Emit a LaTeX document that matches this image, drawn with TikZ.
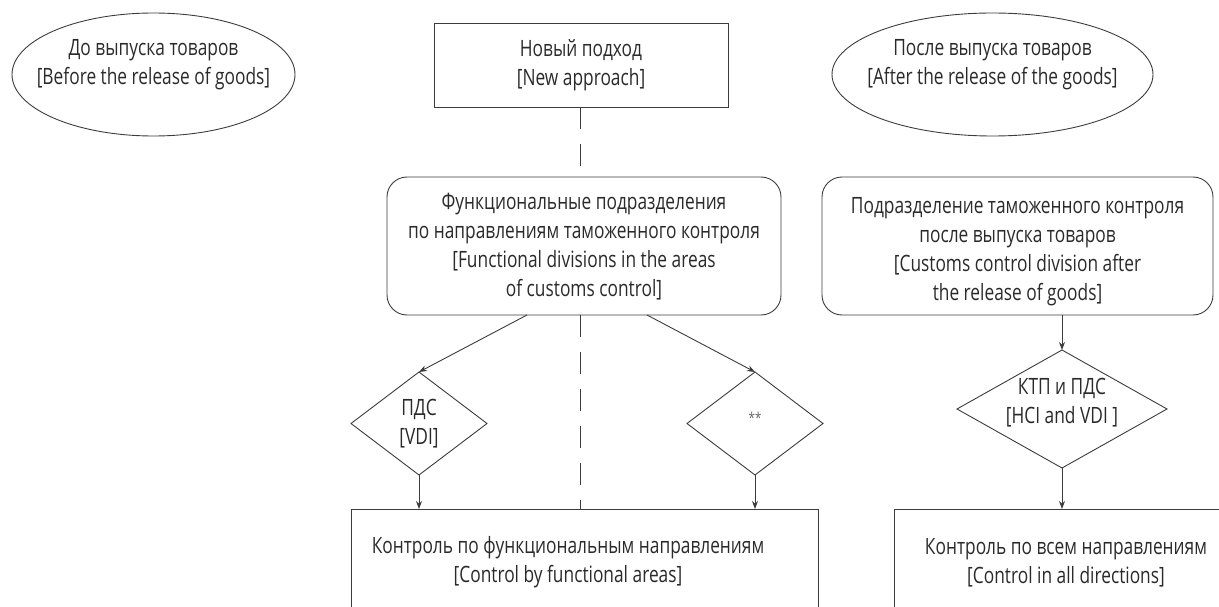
\documentclass[tikz,border=0pt]{standalone}
\usepackage{fontspec}
\setmainfont{Open Sans}[FakeStretch=0.77]
\usetikzlibrary{shapes.geometric,arrows.meta}
\definecolor{ln}{HTML}{3C3C3C}
\definecolor{tx}{HTML}{2A2A2A}
\tikzset{
  every node/.style={inner sep=0pt,outer sep=0pt,text=tx,align=center,font=\fontsize{22.5}{29}\selectfont},
  shp/.style={draw=ln,line width=0.9pt},
  ell/.style={shp,ellipse},
  sqbox/.style={shp,rectangle},
  rbox/.style={shp,rectangle,rounded corners=20pt},
  dia/.style={shp,diamond,aspect=1},
  arr/.style={draw=ln,line width=0.9pt,-{Stealth[length=8pt,width=6pt]}},
  dsh/.style={draw=ln,line width=0.9pt,dash pattern=on 22pt off 15pt},
  txt/.style={}
}
\begin{document}
\begin{tikzpicture}[x=1pt,y=-1pt]
\path[use as bounding box,clip] (0,0) rectangle (1219,607);
% ellipses
\node[ell,minimum width=283pt,minimum height=123pt] (before) at (153.5,74.5) {};
\node[txt] (beforet) at (153.5,65) {До выпуска товаров\\{}[Before the release of goods]};
\node[ell,minimum width=321pt,minimum height=123pt] (after) at (992.5,74.5) {};
\node[txt] (aftert) at (992.5,65) {После выпуска товаров\\{}[After the release of the goods]};
% top box
\node[sqbox,minimum width=294pt,minimum height=84pt] (top) at (581,65) {Новый подход\\{}[New approach]};
% rounded boxes
\node[rbox,minimum width=394pt,minimum height=138pt] (fd) at (584,246) {};
\node[txt] (fdt) at (584,247) {Функциональные подразделения\\по направлениям таможенного контроля\\{}[Functional divisions in the areas\\of customs control]};
\node[rbox,minimum width=391pt,minimum height=138pt] (pc) at (1017.5,246) {};
\node[txt] (pct) at (1017.5,252) {Подразделение таможенного контроля\\после выпуска товаров\\{}[Customs control division after\\the release of goods]};
% diamonds
\node[dia,minimum width=136pt,minimum height=103pt] (d1) at (419,423.5) {};
\node[txt] (d1t) at (419,424) {ПДС\\{}[VDI]};
\node[dia,minimum width=136pt,minimum height=103pt] (d2) at (755,423.5) {};
\node[txt,font=\fontsize{15}{17}\selectfont,text=gray!80!black] (d2t) at (755,418) {**};
\node[dia,minimum width=210pt,minimum height=118pt] (d3) at (1062,409) {};
\node[txt] (d3t) at (1062,403) {КТП и ПДС\\{}[HCI and VDI ]};
% bottom boxes
\node[sqbox,minimum width=467pt,minimum height=140pt] (cf) at (584.5,579) {};
\node[txt] (cft) at (568,562) {Контроль по функциональным направлениям\\{}[Control by functional areas]};
\node[sqbox,minimum width=346pt,minimum height=140pt] (ca) at (1067,579) {};
\node[txt] (cat) at (1066,563) {Контроль по всем направлениям\\{}[Control in all directions]};
% dashed line
\coordinate (dx) at (580,0);
\draw[dsh] (top.south -| dx) -- (fd.north -| dx);
\draw[dsh] (fd.south -| dx) -- (cf.north -| dx);
% arrows
\draw[arr] ([xshift=-57pt]fd.south) -- (d1.north);
\draw[arr] ([xshift=63pt]fd.south) -- (d2.north);
\draw[arr] (d1.south) -- (cf.north -| d1.south);
\draw[arr] (d2.south) -- (cf.north -| d2.south);
\draw[arr] (pc.south -| d3.north) -- (d3.north);
\draw[arr] (d3.south) -- (ca.north -| d3.south);
\end{tikzpicture}
\end{document}
